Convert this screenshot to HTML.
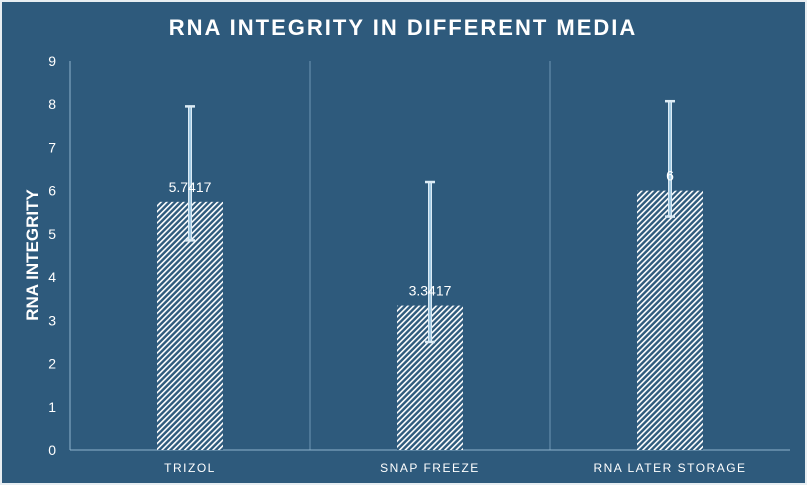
<!DOCTYPE html>
<html><head><meta charset="utf-8"><style>
body{margin:0;background:#fff}
svg{display:block}
text{font-family:"Liberation Sans",sans-serif}
</style></head><body>
<svg width="807" height="485" viewBox="0 0 807 485">
<defs>
<pattern id="hatch" width="4" height="4" patternUnits="userSpaceOnUse" patternTransform="rotate(45)">
<rect width="4" height="4" fill="#2e5a7c"/>
<rect width="1.6" height="4" fill="#ffffff"/>
</pattern>
</defs>
<rect x="0" y="0" width="807" height="485" fill="#e8eef2"/>
<rect x="2" y="2" width="803" height="481" fill="#2e5a7c"/>
<text x="403" y="35" text-anchor="middle" fill="#fff" font-size="22" font-weight="bold" letter-spacing="2">RNA INTEGRITY IN DIFFERENT MEDIA</text>
<text transform="translate(38,255) rotate(-90)" text-anchor="middle" fill="#fff" font-size="17" font-weight="bold">RNA INTEGRITY</text>
<g id="axes"></g>
<g id="marks"></g>
</svg>
<script>
const categories=["TRIZOL","SNAP FREEZE","RNA LATER STORAGE"];
const values=[5.7417,3.3417,6];
const labels=["5.7417","3.3417","6"];
const errHigh=[7.95,6.2,8.07];
const errLow=[4.85,2.5,5.4];
const yTicks=[0,1,2,3,4,5,6,7,8,9];
const NS="http://www.w3.org/2000/svg";
const axes=document.getElementById('axes'),marks=document.getElementById('marks');
const x0=70,x1=790,y0=450,yTop=61,yMax=9;
const y=v=>y0-(v/yMax)*(y0-yTop);
const bw=(x1-x0)/categories.length;
const cx=i=>x0+bw*(i+0.5);
function mk(t,a,p){const e=document.createElementNS(NS,t);for(const k in a)e.setAttribute(k,a[k]);(p||axes).appendChild(e);return e;}
let l=mk('line',{x1:x0,x2:x0,y1:yTop,y2:y0,stroke:'#8fb3cc','stroke-width':1});


for(let i=1;i<categories.length;i++){
 const g=mk('line',{x1:x0+bw*i,x2:x0+bw*i,y1:yTop,y2:y0,stroke:'#6f97b5','stroke-width':1});
 
 
}
const b=mk('line',{x1:x0,x2:x1,y1:y0,y2:y0,stroke:'#8fb3cc','stroke-width':1});


yTicks.forEach(v=>{
 const t=mk('text',{x:56,y:y(v)+5,'text-anchor':'end',fill:'#fff','font-size':14});
 t.textContent=v;
 
 
});
categories.forEach((c,i)=>{
 const t=mk('text',{x:cx(i),y:472,'text-anchor':'middle',fill:'#fff','font-size':12,'letter-spacing':'1.5'});
 t.textContent=c;
 
 
 const r=mk('rect',{x:cx(i)-33,y:y(values[i]),width:66,height:y0-y(values[i]),fill:'url(#hatch)'},marks);
 
 
 const eg=mk('g',{},marks);
 
 
 mk('line',{x1:cx(i),x2:cx(i),y1:y(errHigh[i]),y2:y(errLow[i]),stroke:'#dcebf5','stroke-width':4},eg);
 mk('line',{x1:cx(i),x2:cx(i),y1:y(errHigh[i]),y2:y(errLow[i]),stroke:'#8fbedb','stroke-width':1.5},eg);
 [errHigh[i],errLow[i]].forEach(v=>{
  mk('line',{x1:cx(i)-5,x2:cx(i)+5,y1:y(v),y2:y(v),stroke:'#dcebf5','stroke-width':2.5},eg);
 });
 const lb=mk('text',{x:cx(i),y:y(values[i])-10,'text-anchor':'middle',fill:'#fff','font-size':14},marks);
 lb.textContent=labels[i];
 
 
});
</script>
</body></html>
